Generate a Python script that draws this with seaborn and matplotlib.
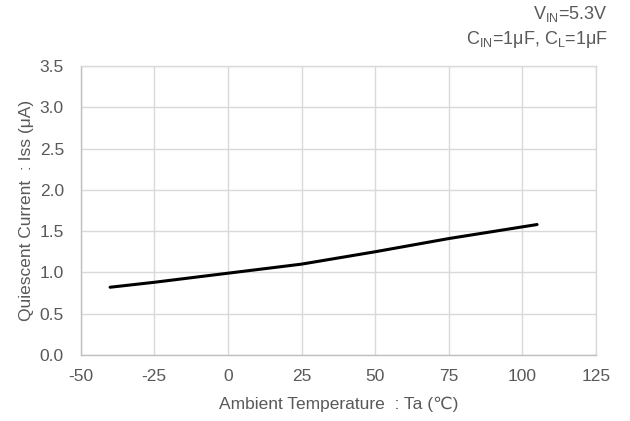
import numpy as np
import pandas as pd
import matplotlib as mpl
import matplotlib.pyplot as plt
import seaborn as sns

sns.set_style("white")
plt.rcParams['font.family'] = ['Liberation Sans', 'DejaVu Sans']
plt.rcParams['mathtext.fontset'] = 'custom'
plt.rcParams['mathtext.rm'] = 'Liberation Sans'
plt.rcParams['mathtext.it'] = 'Liberation Sans'
mpl.rcParams['axes.unicode_minus'] = False

# data
temp = [-40, -25, 0, 25, 50, 75, 105]
iss = [0.82, 0.88, 0.99, 1.10, 1.25, 1.41, 1.58]
xticks = [-50, -25, 0, 25, 50, 75, 100, 125]
yticks = [0.0, 0.5, 1.0, 1.5, 2.0, 2.5, 3.0, 3.5]

df = pd.DataFrame({"temp": temp, "iss": iss})

fig, ax = plt.subplots(figsize=(6.3, 4.21), dpi=100)
fig.subplots_adjust(left=0.128, right=0.946, top=0.843, bottom=0.157)

sns.lineplot(data=df, x="temp", y="iss", color="black", linewidth=2.2, ax=ax)

grey = "#595959"
ax.set_xlim(-50, 125)
ax.set_ylim(0, 3.5)
ax.set_xticks(xticks)
ax.set_yticks(yticks)
ax.set_yticklabels([f"{v:.1f}" for v in yticks])
ax.grid(True, color="#d9d9d9", linewidth=1)
ax.set_axisbelow(True)
for s in ax.spines.values():
    s.set_color("#d9d9d9")
    s.set_linewidth(1)
ax.spines['left'].set_color("#bfbfbf")
ax.spines['bottom'].set_color("#bfbfbf")
ax.tick_params(colors=grey, labelsize=12.5, length=0)
ax.tick_params(axis='x', pad=10)
ax.tick_params(axis='y', pad=12)

ax.set_xlabel("Ambient Temperature  : Ta (\u2103)", color=grey, fontsize=12.5, labelpad=9)
ax.set_ylabel("Quiescent Current  : Iss (\u03bcA)", color=grey, fontsize=12.5, labelpad=4)

fig.text(0.965, 0.967, r"V$_{\mathregular{IN}}$=5.3V", ha="right", va="center",
         color=grey, fontsize=13)
fig.text(0.965, 0.905, r"C$_{\mathregular{IN}}$=1μF, C$_{\mathregular{L}}$=1μF", ha="right",
         va="center", color=grey, fontsize=13)

plt.savefig("out.png", dpi=100)
